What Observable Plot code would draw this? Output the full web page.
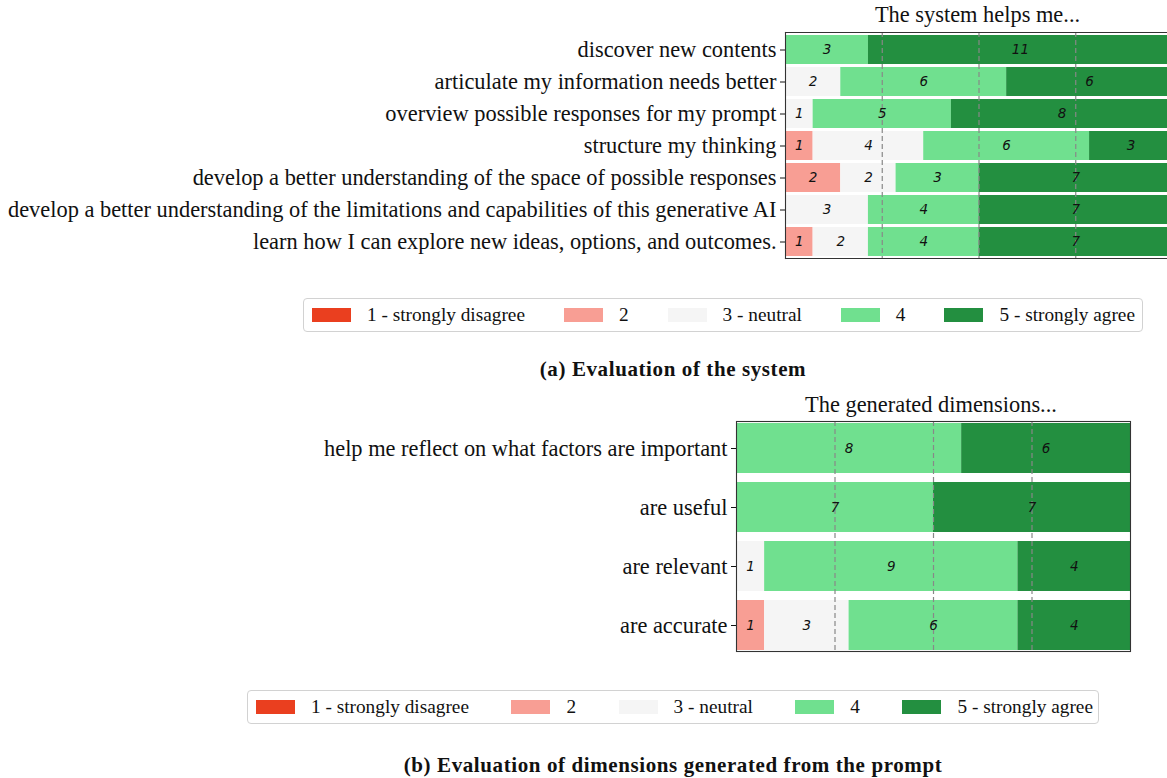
<!DOCTYPE html>
<html>
<head>
<meta charset="utf-8">
<script src="https://cdn.jsdelivr.net/npm/d3@7"></script>
<script src="https://cdn.jsdelivr.net/npm/@observablehq/plot@0.6"></script>
<style>
html, body { margin: 0; padding: 0; background: #fff; overflow: hidden; }
#root { position: relative; width: 1167px; height: 778px; }
.chart { position: absolute; left: 0; }
.title { position: absolute; font-family: "Liberation Serif", serif; font-size: 22.4px; line-height: 22px; color: #111; text-align: center; white-space: nowrap; }
.legend { position: absolute; border: 1px solid #d2d2d2; border-radius: 4px; box-sizing: border-box; display: flex; align-items: center; padding-left: 8px; font-family: "Liberation Serif", serif; font-size: 19.3px; color: #111; background: #fff; }
.item { display: flex; align-items: center; white-space: nowrap; }
.sw { width: 39px; height: 14px; margin-right: 16px; }
.caption { position: absolute; left: 273px; width: 800px; text-align: center; font-family: "Liberation Serif", serif; font-weight: bold; font-size: 21px; line-height: 21px; color: #111; letter-spacing: 0.6px; white-space: nowrap; }
</style>
</head>
<body>
<div id="root"></div>
<script>
// ---- data ----
const levels = ["1 - strongly disagree", "2", "3 - neutral", "4", "5 - strongly agree"];
const levelColors = ["#ea3f1f", "#f89e94", "#f5f5f5", "#70e08f", "#238f40"];

const systemTitle = "The system helps me...";
const systemItems = [
  "discover new contents",
  "articulate my information needs better",
  "overview possible responses for my prompt",
  "structure my thinking",
  "develop a better understanding of the space of possible responses",
  "develop a better understanding of the limitations and capabilities of this generative AI",
  "learn how I can explore new ideas, options, and outcomes."
];
// counts per level 1..5
const systemCounts = [
  [0, 0, 0, 3, 11],
  [0, 0, 2, 6, 6],
  [0, 0, 1, 5, 8],
  [0, 1, 4, 6, 3],
  [0, 2, 2, 3, 7],
  [0, 0, 3, 4, 7],
  [0, 1, 2, 4, 7]
];
const systemCaption = "(a) Evaluation of the system";

const dimTitle = "The generated dimensions...";
const dimItems = [
  "help me reflect on what factors are important",
  "are useful",
  "are relevant",
  "are accurate"
];
const dimCounts = [
  [0, 0, 0, 8, 6],
  [0, 0, 0, 7, 7],
  [0, 0, 1, 9, 4],
  [0, 1, 3, 6, 4]
];
const dimCaption = "(b) Evaluation of dimensions generated from the prompt";

const quartileFractions = [0.25, 0.5, 0.75];

// ---- helpers ----
function toRows(items, counts) {
  const out = [];
  items.forEach((item, i) => counts[i].forEach((c, j) => out.push({item, level: levels[j], count: c})));
  return out;
}

function makeChart(items, counts, cfg) {
  const data = toRows(items, counts);
  const total = d3.max(counts, r => d3.sum(r));
  const refs = quartileFractions.map(f => f * total);
  const frameMarks = cfg.openRight
    ? [Plot.frame({anchor: "left", stroke: "#333", strokeWidth: 1.1}),
       Plot.frame({anchor: "top", stroke: "#333", strokeWidth: 1.1}),
       Plot.frame({anchor: "bottom", stroke: "#333", strokeWidth: 1.1})]
    : [Plot.frame({stroke: "#333", strokeWidth: 1.1})];
  return Plot.plot({
    width: 1167,
    height: cfg.height,
    marginLeft: cfg.left,
    marginRight: cfg.right,
    marginTop: cfg.top,
    marginBottom: cfg.bottom,
    x: {domain: [0, total], range: [cfg.left, cfg.xEnd], axis: null},
    y: {domain: items, paddingInner: cfg.pad, paddingOuter: 0, label: null, tickSize: 5, tickPadding: 4},
    color: {domain: levels, range: levelColors},
    style: {fontFamily: "Liberation Serif, serif", fontSize: "22.4px", color: "#111", overflow: "hidden", background: "transparent"},
    marks: [
      Plot.barX(data, {x: "count", y: "item", fill: "level"}),
      Plot.ruleX(refs, {stroke: "#888", strokeWidth: 1.2, strokeDasharray: "5,3"}),
      Plot.text(data.filter(d => d.count > 0), Plot.stackX({
        x: "count", y: "item", z: "level", text: d => String(d.count),
        fontStyle: "italic", fontFamily: "DejaVu Sans", fontSize: 13.5, fill: "#111"
      })),
      ...frameMarks
    ]
  });
}

function makeLegend(left, top, width, gap) {
  const lg = document.createElement("div");
  lg.className = "legend";
  Object.assign(lg.style, {left: left + "px", top: top + "px", width: width + "px", height: "34px"});
  levels.forEach((l, i) => {
    const it = document.createElement("div");
    it.className = "item";
    if (i < levels.length - 1) it.style.marginRight = gap + "px";
    const sw = document.createElement("div");
    sw.className = "sw";
    sw.style.background = levelColors[i];
    const tx = document.createElement("span");
    tx.textContent = l;
    it.appendChild(sw); it.appendChild(tx);
    lg.appendChild(it);
  });
  return lg;
}

function addDiv(cls, text, styles) {
  const d = document.createElement("div");
  d.className = cls;
  d.textContent = text;
  Object.assign(d.style, styles);
  root.appendChild(d);
  return d;
}

const root = document.getElementById("root");

// top chart
const c1 = makeChart(systemItems, systemCounts, {height: 262, left: 785, right: 0, top: 32, bottom: 4, xEnd: 1172, pad: 0.1, openRight: true});
c1.classList.add("chart"); c1.style.top = "0px";
root.appendChild(c1);
addDiv("title", systemTitle, {left: "785px", width: "385px", top: "4px"});
root.appendChild(makeLegend(303, 298, 840, 39));
addDiv("caption", systemCaption, {top: "359px"});

// bottom chart
const c2 = makeChart(dimItems, dimCounts, {height: 265, left: 736, right: 37, top: 31, bottom: 4, xEnd: 1130, pad: 0.155, openRight: false});
c2.classList.add("chart"); c2.style.top = "390px";
root.appendChild(c2);
addDiv("title", dimTitle, {left: "736px", width: "390px", top: "394px"});
root.appendChild(makeLegend(247, 690, 852, 42.5));
addDiv("caption", dimCaption, {top: "755px"});
</script>
</body>
</html>
